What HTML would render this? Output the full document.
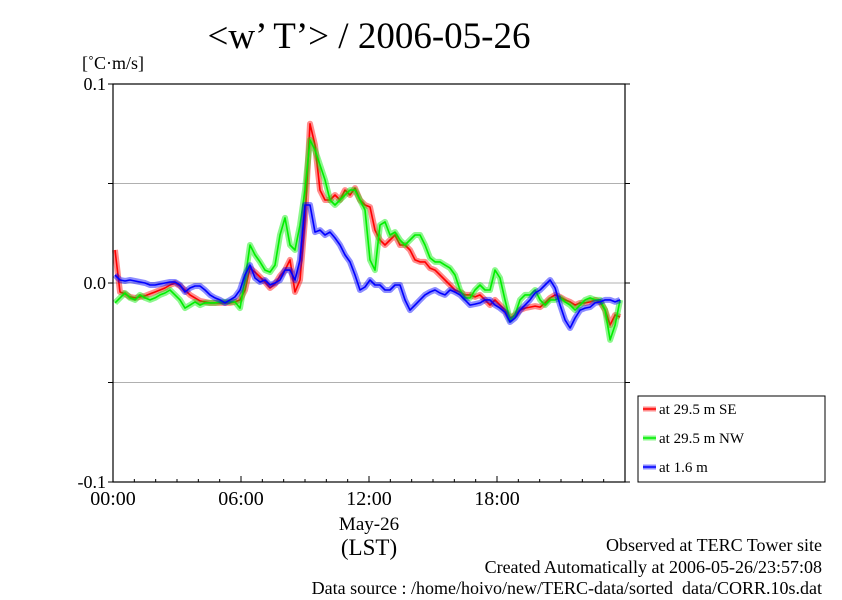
<!DOCTYPE html>
<html><head><meta charset="utf-8"><style>
body{margin:0;background:#fff;}
svg text{font-family:"Liberation Serif",serif;fill:#000;}
</style></head><body>
<svg id="chart" width="842" height="595" xmlns="http://www.w3.org/2000/svg">
<rect width="842" height="595" fill="#fff"/>
<text x="369" y="48" font-size="37" text-anchor="middle">&lt;w’ T’&gt; / 2006-05-26</text>
<text x="82" y="69" font-size="18">[˚C·m/s]</text>
<g id="grid"></g>
<g id="series"></g>
<rect x="113" y="84" width="512" height="398" fill="none" stroke="#000" stroke-width="1.2"/>
<g id="axes"></g>
<text x="369" y="530" font-size="19" text-anchor="middle">May-26</text>
<text x="369" y="555" font-size="23" text-anchor="middle">(LST)</text>
<g>
<rect x="638" y="396" width="187" height="86" fill="#fff" stroke="#000" stroke-width="1"/>
<g id="legend-entries"></g>
</g>
<text x="822" y="551" font-size="18" text-anchor="end">Observed at TERC Tower site</text>
<text x="822" y="573" font-size="18" text-anchor="end">Created Automatically at 2006-05-26/23:57:08</text>
<text x="822" y="594" font-size="18" text-anchor="end">Data source : /home/hoivo/new/TERC-data/sorted_data/CORR.10s.dat</text>
</svg>
<script>
// values in 1e-3 °C·m/s, sampled every ~14 min starting ~00:06
const seriesNames = ["at 29.5 m SE","at 29.5 m NW","at 1.6 m"];
const seriesColors = ["#ff0000","#00ee00","#0000ff"];
const startHour = 0.094;
const stepHour = 0.2344;
const yTickValues = [0.1, 0.0, -0.1];
const yTickLabels = ["0.1","0.0","-0.1"];
const yGridValues = [0.05, 0.0, -0.05];
const xTickHours = [0, 6, 12, 18];
const xTickLabels = ["00:00","06:00","12:00","18:00"];
const seSE = [16.6,-4.5,-5.5,-7.0,-7.5,-7.0,-6.5,-5.5,-4.5,-3.5,-2.5,-1.0,0,-1.5,-3.5,-6.0,-7.5,-9.0,-9.5,-10,-10,-10,-10,-10,-9.5,-8.5,-3.5,7.5,5.5,3.0,0.5,-2.5,-0.5,3.5,6.5,11.6,-4.5,1.5,31.7,80,69.3,46.7,41.7,41.7,44.2,41.7,46.7,44.2,47.7,41.7,39.2,38.2,26.6,21.6,19.1,21.6,24.1,19.1,19.1,16.6,11.6,10.6,10.6,7.5,6.5,4.0,1.5,-1.0,-3.5,-4.5,-6.0,-6.0,-7.0,-6.0,-8.5,-11.1,-8.5,-11.1,-13.6,-17.6,-16.1,-13.6,-12.6,-12.1,-11.6,-12.1,-10,-7.5,-6.0,-7.0,-8.5,-9.5,-11.1,-10,-10,-9.5,-8.5,-9.5,-13.6,-21.1,-16.1,-17.1];
const seNW = [-10,-7.5,-5.0,-7.5,-8.5,-6.0,-7.5,-8.5,-7.5,-6.0,-5.0,-3.5,-6.0,-8.5,-12.6,-11.1,-9.5,-11.1,-10,-10,-10,-9.5,-9.5,-9.5,-9.5,-12.6,1.5,19.1,14.1,10.6,6.5,5.5,9.0,24.1,32.7,19.1,16.6,29.1,46.7,71.9,66.8,59.3,51.8,41.7,39.2,41.7,44.2,46.7,46.7,41.7,36.7,11.6,6.5,29.1,30.7,24.1,25.6,21.6,19.1,21.6,24.1,24.1,19.1,12.6,10.6,10.6,9.0,7.5,4.0,-3.5,-7.5,-7.5,-3.5,-1.0,-3.5,-3.5,6.5,2.5,-8.5,-18.6,-16.1,-8.5,-6.0,-6.0,-3.5,-8.5,-11.1,-8.5,-8.5,-7.5,-9.5,-11.1,-13.6,-11.1,-8.5,-7.5,-8.5,-8.5,-13.6,-28.6,-21.1,-8.5];
const low16 = [4.0,1.5,1.0,1.5,1.0,0.5,0,-1.0,-1.0,-0.5,0,0.5,0.5,-1.0,-4.5,-2.5,-1.5,-1.5,-3.5,-6.0,-7.5,-8.5,-10,-8.5,-7.0,-3.5,4.0,9.0,2.5,0.5,1.5,-1.0,0,1.5,6.5,6.5,1.5,11.6,39.2,39.2,25.6,26.6,24.1,25.6,22.6,19.1,14.1,10.6,4.0,-3.5,-2.0,1.5,-1.0,-1.0,-3.5,-3.5,-1.0,-1.0,-8.5,-13.6,-11.1,-8.5,-6.0,-4.5,-3.5,-5.0,-6.0,-3.5,-4.5,-6.0,-8.5,-11.1,-10.6,-10,-8.5,-8.5,-11.1,-12.6,-14.6,-19.6,-17.6,-13.6,-11.1,-8.5,-5.0,-3.5,-1.0,1.5,-2.5,-11.1,-18.6,-22.6,-17.6,-13.6,-12.6,-12.1,-10,-9.5,-8.5,-8.5,-9.5,-8.5];
const allSeries = [seSE, seNW, low16];

const X0=113, X1=625, Y0=84, Y1=482;
const hMin=0, hMax=24, vMin=-0.1, vMax=0.1;
function xs(h){return X0+(h-hMin)/(hMax-hMin)*(X1-X0);}
function ys(v){return Y1-(v-vMin)/(vMax-vMin)*(Y1-Y0);}
const NS="http://www.w3.org/2000/svg";
function mk(tag,parent,attrs){const e=document.createElementNS(NS,tag);for(const k in attrs)e.setAttribute(k,attrs[k]);parent.appendChild(e);return e;}

const grid=document.getElementById('grid');
yGridValues.forEach(v=>{
  const l=mk('line',grid,{x1:X0,x2:X1,y1:ys(v),y2:ys(v),stroke:'#b0b0b0','stroke-width':1});
  
  
});
const axes=document.getElementById('axes');
yTickValues.forEach((v,i)=>{
  const t=mk('text',axes,{x:106,y:ys(v)+6,'font-size':18,'text-anchor':'end'});
  t.textContent=yTickLabels[i];
  
  
});
[0.1,0.05,0,-0.05,-0.1].forEach(v=>{
  const l=mk('line',axes,{x1:X1,x2:X1+5,y1:ys(v),y2:ys(v),stroke:'#000'});
  
  
  const l2=mk('line',axes,{x1:X0-5,x2:X0,y1:ys(v),y2:ys(v),stroke:'#000'});
  
  
});
for(let h=0;h<=24;h++){
  const len=(h%6===0)?6:3;
  const l=mk('line',axes,{x1:xs(h),x2:xs(h),y1:Y1-len,y2:Y1,stroke:'#000'});
  
  
}
xTickHours.forEach((h,i)=>{
  const t=mk('text',axes,{x:xs(h),y:505,'font-size':20,'text-anchor':'middle'});
  t.textContent=xTickLabels[i];
  
  
});
const sg=document.getElementById('series');
allSeries.forEach((arr,si)=>{
  const pts=arr.map((v,i)=>xs(startHour+i*stepHour).toFixed(1)+','+ys(v/1000).toFixed(1)).join(' ');
  const halo=mk('polyline',sg,{points:pts,fill:'none',stroke:seriesColors[si],'stroke-width':6,'stroke-opacity':0.45,'stroke-linejoin':'round'});
  
  
  const line=mk('polyline',sg,{points:pts,fill:'none',stroke:seriesColors[si],'stroke-width':1.6,'stroke-linejoin':'round'});
  
  
});
const lg=document.getElementById('legend-entries');
seriesNames.forEach((n,i)=>{
  const y=409+i*29;
  const g=mk('g',lg,{});
  
  
  mk('line',g,{x1:643,x2:656,y1:y,y2:y,stroke:seriesColors[i],'stroke-width':5,'stroke-opacity':0.45});
  mk('line',g,{x1:643,x2:656,y1:y,y2:y,stroke:seriesColors[i],'stroke-width':1.5});
  const t=mk('text',g,{x:659,y:y+5,'font-size':15});
  t.textContent=n;
});
</script>
</body></html>
